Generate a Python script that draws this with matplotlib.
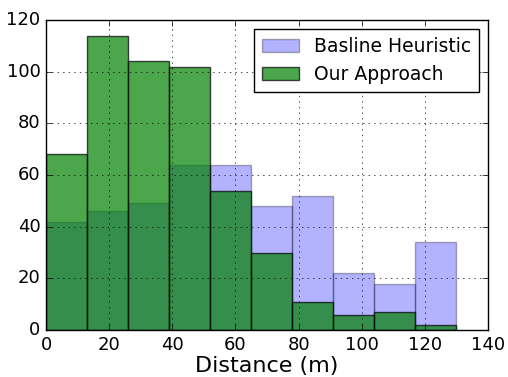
import numpy as np
import matplotlib
matplotlib.use("Agg")
from matplotlib import pyplot as plt

plt.style.use("classic")

bin_edges = np.arange(0, 131, 13)
baseline_counts = [42, 46, 49, 64, 64, 48, 52, 22, 18, 34]
ours_counts = [68, 114, 104, 102, 54, 30, 11, 6, 7, 2]
labels = ["Basline Heuristic", "Our Approach"]

fig = plt.figure(figsize=(5.08, 3.77), dpi=100)
ax = fig.add_axes([46 / 508, 47 / 377, 442 / 508, 310 / 377])

centers = (bin_edges[:-1] + bin_edges[1:]) / 2
ax.hist(centers, bins=bin_edges, weights=baseline_counts, color="blue", alpha=0.3,
        label=labels[0])
ax.hist(centers, bins=bin_edges, weights=ours_counts, color="green", alpha=0.7,
        label=labels[1])

ax.set_xlim(0, 140)
ax.set_ylim(0, 120)
ax.grid(True)
ax.tick_params(labelsize=13)
ax.set_xlabel("Distance (m)", fontsize=16, labelpad=2)
ax.legend(loc="upper right", fontsize=13.5, fancybox=False)

fig.savefig("out.png", dpi=100)
